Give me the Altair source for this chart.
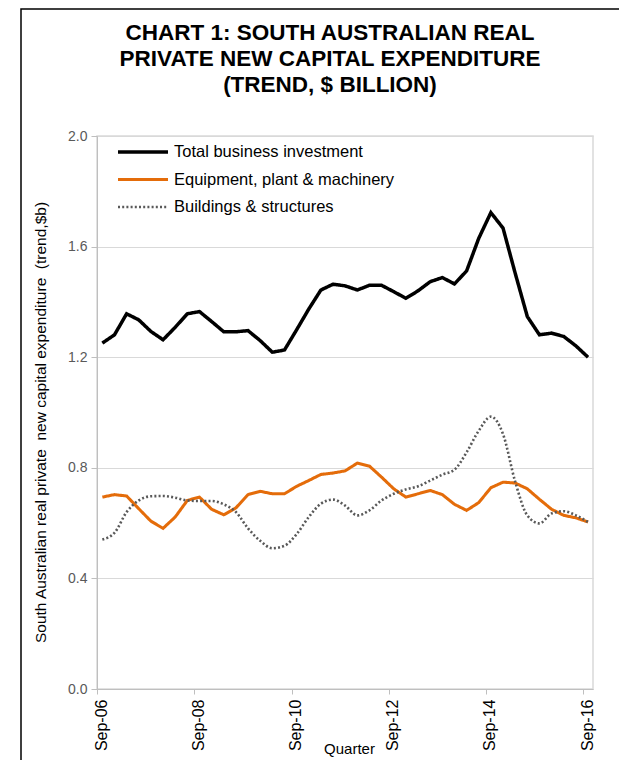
import json
import altair as alt
import pandas as pd

# ---------------- data ----------------
series_names = ["Total business investment", "Equipment, plant & machinery", "Buildings & structures"]
series_colors = ["#000000", "#E46C0A", "#595959"]

tick_labels = ["Sep-06", "Sep-08", "Sep-10", "Sep-12", "Sep-14", "Sep-16"]

total = [1.251, 1.281, 1.357, 1.335, 1.293, 1.263, 1.308, 1.357, 1.365, 1.329,
         1.292, 1.292, 1.296, 1.260, 1.218, 1.226, 1.299, 1.374, 1.443, 1.464,
         1.458, 1.443, 1.460, 1.460, 1.437, 1.413, 1.440, 1.473, 1.488, 1.465,
         1.512, 1.630, 1.723, 1.667, 1.504, 1.347, 1.281, 1.287, 1.275, 1.241,
         1.200]
equipment = [0.694, 0.703, 0.698, 0.652, 0.607, 0.581, 0.622, 0.682, 0.694, 0.650,
             0.630, 0.655, 0.703, 0.715, 0.706, 0.706, 0.733, 0.754, 0.776, 0.781,
             0.789, 0.817, 0.806, 0.766, 0.724, 0.694, 0.706, 0.718, 0.703, 0.668,
             0.646, 0.674, 0.728, 0.748, 0.745, 0.724, 0.686, 0.650, 0.628, 0.619,
             0.604]
buildings = [0.541, 0.565, 0.640, 0.682, 0.697, 0.698, 0.692, 0.682, 0.680, 0.680,
             0.668, 0.640, 0.581, 0.536, 0.509, 0.518, 0.560, 0.622, 0.670, 0.685,
             0.663, 0.628, 0.646, 0.682, 0.706, 0.722, 0.733, 0.754, 0.775, 0.793,
             0.856, 0.934, 0.985, 0.922, 0.750, 0.628, 0.599, 0.635, 0.643, 0.628,
             0.604]

rows = []
for name, vals in zip(series_names, [total, equipment, buildings]):
    for i, v in enumerate(vals):
        rows.append({"q": i, "series": name, "value": v})
df = pd.DataFrame(rows)
legend_df = pd.DataFrame({"series": series_names, "order": list(range(len(series_names)))})

FONT = "Liberation Sans"
W, H = 496, 553

label_expr = "%s[round(datum.value / 8)]" % json.dumps(tick_labels)

x_enc = alt.X(
    "q:Q",
    scale=alt.Scale(domain=[-0.44, 40.41], nice=False, zero=False),
    axis=alt.Axis(
        values=[0, 8, 16, 24, 32, 40],
        labelExpr=label_expr,
        labelAngle=270,
        labelAlign="right",
        labelBaseline="middle",
        labelFontSize=16,
        labelColor="#000000",
        labelPadding=5,
        tickSize=5,
        tickOffset=-5,
        labelOffset=4,
        tickColor="#bfbfbf",
        domainColor="#bfbfbf",
        grid=False,
        title="Quarter",
        titleFontSize=15,
        titleFontWeight="normal",
        titleColor="#000000",
        titleY=67,
        titleX=252,
        titleBaseline="bottom",
        titleAnchor="middle",
    ),
)
y_scale = alt.Scale(domain=[0, 2.0], nice=False)
y_enc = alt.Y(
    "value:Q",
    scale=y_scale,
    axis=alt.Axis(
        values=[0, 0.4, 0.8, 1.2, 1.6, 2.0],
        format=".1f",
        labelFontSize=14,
        labelColor="#595959",
        labelPadding=4,
        tickSize=6,
        tickColor="#bfbfbf",
        domainColor="#bfbfbf",
        gridColor="#d9d9d9",
        title="South Australian real private\u00a0 new capital expenditure\u00a0 (trend,$b)",
        titleFontSize=15.5,
        titleFontWeight="normal",
        titleColor="#000000",
        titlePadding=19,
        titleY=286,
        titleAnchor="middle",
    ),
)
y_enc_noaxis = alt.Y("value:Q", scale=y_scale, axis=None)

color_enc = alt.Color(
    "series:N",
    scale=alt.Scale(domain=series_names, range=series_colors),
    legend=None,
)
dash_enc = alt.StrokeDash(
    "series:N",
    scale=alt.Scale(domain=series_names, range=[[1, 0], [1, 0], [2, 2.2]]),
    legend=None,
)
width_enc = alt.StrokeWidth(
    "series:N",
    scale=alt.Scale(domain=series_names, range=[3.5, 2.6, 2.0]),
    legend=None,
)

base = alt.Chart(df)

lines_straight = base.transform_filter(
    alt.datum.series != series_names[2]
).mark_line(strokeCap="butt", strokeJoin="miter").encode(
    x=x_enc, y=y_enc, color=color_enc, strokeDash=dash_enc, strokeWidth=width_enc,
    detail="series:N",
)
lines_smooth = base.transform_filter(
    alt.datum.series == series_names[2]
).mark_line(interpolate="monotone", strokeCap="butt").encode(
    x=x_enc, y=y_enc_noaxis, color=color_enc, strokeDash=dash_enc, strokeWidth=width_enc,
)

# legend drawn inside the plot area (top-left), one row per series
legend_y = alt.Y(
    "order:O",
    scale=alt.Scale(type="point", domain=[0, 1, 2], range=[16, 71], padding=0),
    axis=None,
)
legend_sym = alt.Chart(legend_df).mark_rule(strokeCap="butt").encode(
    x=alt.value(21), x2=alt.value(71), y=legend_y,
    color=color_enc, strokeDash=dash_enc, strokeWidth=width_enc,
)
legend_txt = alt.Chart(legend_df).mark_text(
    align="left", baseline="middle", fontSize=16.5, font=FONT, color="#000000"
).encode(
    x=alt.value(77), y=legend_y, text="series:N",
)

frame = alt.Chart(pd.DataFrame({"k": [0]})).mark_rect(
    fillOpacity=0, stroke="#000000", strokeWidth=1.5
).encode(
    x=alt.value(-76), x2=alt.value(600), y=alt.value(-127), y2=alt.value(680)
)

chart = alt.layer(
    frame, lines_straight, lines_smooth, legend_sym, legend_txt
).resolve_scale(
    y="independent"
).properties(
    width=W,
    height=H,
    title=alt.TitleParams(
        text=["CHART 1: SOUTH AUSTRALIAN REAL",
              "PRIVATE NEW CAPITAL EXPENDITURE",
              "(TREND, $ BILLION)"],
        font=FONT,
        fontSize=22.5,
        fontWeight="bold",
        color="#000000",
        anchor="middle",
        frame="group",
        dx=-15,
        dy=130,
        lineHeight=26,
        offset=42,
    ),
    autosize=alt.AutoSizeParams(type="none"),
    padding={"left": 97, "top": 136, "right": 26, "bottom": 71},
).configure(
    font=FONT,
).configure_axis(
    labelFont=FONT,
    titleFont=FONT,
).configure_view(
    stroke="#d9d9d9",
    strokeWidth=1.5,
)

chart.save("out.html", embed_options={"renderer": "svg", "actions": False})
